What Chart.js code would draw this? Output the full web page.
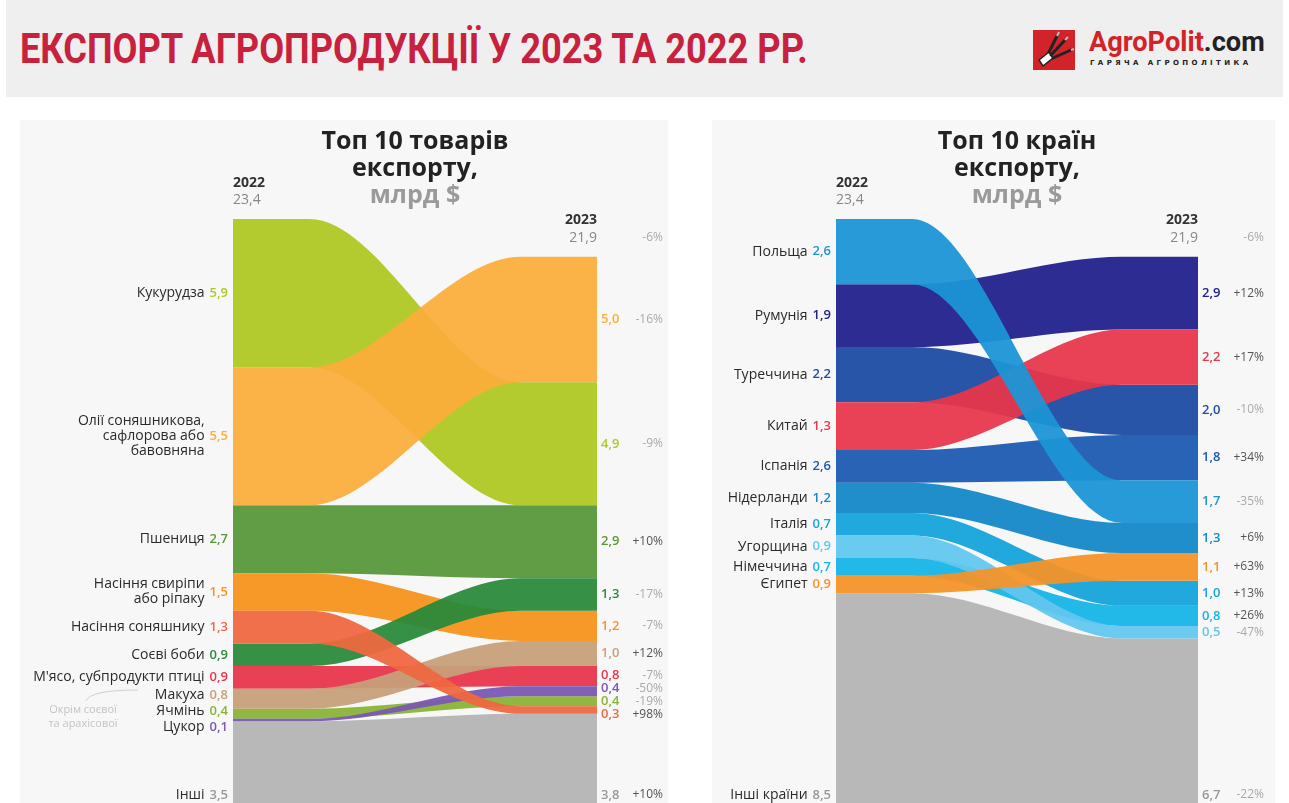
<!DOCTYPE html>
<html lang="uk">
<head>
<meta charset="utf-8">
<title>Експорт агропродукції у 2023 та 2022 рр.</title>
<script src="https://cdn.jsdelivr.net/npm/chart.js@4.4.1/dist/chart.umd.min.js"></script>
<style>
  body { margin: 0; width: 1289px; height: 803px; overflow: hidden; position: relative; background: #fff; font-family: 'Open Sans', sans-serif; }
  #head { position: absolute; left: 6px; top: 0; width: 1277px; height: 97px; background: #efefef; }
  #title { position: absolute; left: 20px; top: 28px; font: bold 42px Roboto, sans-serif; line-height: 42px; color: #c8213e; white-space: nowrap; transform-origin: 0 0; }
  #logoBox { position: absolute; left: 1033px; top: 30px; width: 42px; height: 40px; background: #d2232a; }
  #logoText { position: absolute; left: 1089px; top: 27px; font: bold 27px Roboto, sans-serif; line-height: 30px; color: #d2232a; white-space: nowrap; transform-origin: 0 0; }
  #logoText span { color: #222; }
  #logoSub { position: absolute; left: 1090px; top: 59px; font: bold 7px 'DejaVu Sans', sans-serif; letter-spacing: 3.4px; color: #222; white-space: nowrap; }
  .panel { position: absolute; top: 120px; height: 683px; background: #f7f7f7; }
  .panel canvas { position: absolute; left: 0; top: 0; }
  .ptitle { position: absolute; top: 6px; width: 300px; text-align: center; font: bold 25px 'Open Sans', sans-serif; line-height: 27px; color: #222; }
  .ptitle span { color: #9a9a9a; }
</style>
</head>
<body>
<div id="head"></div>
<div id="title">ЕКСПОРТ АГРОПРОДУКЦІЇ У 2023 ТА 2022 РР.</div>
<div id="logoBox">
  <svg width="42" height="40" viewBox="0 0 42 40">
    <path d="M6 30 L16 22 L20 28 L10 36 Z" fill="#fff" stroke="#222" stroke-width="1.5"/>
    <path d="M16 22 L24 6 M18 25 L32 10 M20 28 L38 20" stroke="#222" stroke-width="3" stroke-linecap="round"/>
    <path d="M24 6 L26 2 M32 10 L35 7 M38 20 L41 19" stroke="#bbb" stroke-width="2"/>
  </svg>
</div>
<div id="logoText">AgroPolit<span>.com</span></div>
<div id="logoSub">ГАРЯЧА АГРОПОЛІТИКА</div>

<div class="panel" style="left:20px; width:648px;">
  <canvas id="goodsChart" width="648" height="683"></canvas>
  <div class="ptitle" style="left:245px;">Топ 10 товарів<br>експорту,<br><span>млрд $</span></div>
</div>
<div class="panel" style="left:712px; width:563px;">
  <canvas id="countriesChart" width="563" height="683"></canvas>
  <div class="ptitle" style="left:155px;">Топ 10 країн<br>експорту,<br><span>млрд $</span></div>
</div>

<script>
// --- товари ---
const goodsNames = ['Кукурудза', 'Олії соняшникова,\nсафлорова або\nбавовняна', 'Пшениця', 'Насіння свиріпи\nабо ріпаку',
    'Насіння соняшнику', 'Соєві боби', "М'ясо, субпродукти птиці", 'Макуха', 'Ячмінь', 'Цукор', 'Інші'];
const goods2022 = [5.9, 5.5, 2.7, 1.5, 1.3, 0.9, 0.9, 0.8, 0.4, 0.1, 3.5];
const goods2023 = [4.9, 5.0, 2.9, 1.2, 0.3, 1.3, 0.8, 1.0, 0.4, 0.4, 3.8];
const goodsRank2023 = [1, 0, 2, 4, 9, 3, 6, 5, 8, 7, 10];
const goodsChange = ['-9%', '-16%', '+10%', '-7%', '+98%', '-17%', '-7%', '+12%', '-19%', '-50%', '+10%'];
const goodsColors = ['#afc824', '#fbae3c', '#57983a', '#f7941d', '#ee6840', '#2b8a3c', '#e9364c', '#c6a07a', '#8ab336', '#7a58b3', '#b4b4b4'];
const goodsTotals = [23.4, 21.9];

// --- країни ---
const countryNames = ['Польща', 'Румунія', 'Туреччина', 'Китай', 'Іспанія', 'Нідерланди', 'Італія', 'Угорщина', 'Німеччина', 'Єгипет', 'Інші країни'];
const countries2022 = [2.6, 2.5, 2.2, 1.9, 1.3, 1.2, 0.9, 0.9, 0.7, 0.7, 8.5];
const countryLabels2022 = ['2,6', '1,9', '2,2', '1,3', '2,6', '1,2', '0,7', '0,9', '0,7', '0,9', '8,5'];
const countries2023 = [1.7, 2.9, 2.0, 2.2, 1.8, 1.2, 1.0, 0.5, 0.8, 1.1, 6.7];
const countryLabels2023 = ['1,7', '2,9', '2,0', '2,2', '1,8', '1,3', '1,0', '0,5', '0,8', '1,1', '6,7'];
const countriesRank2023 = [4, 0, 2, 1, 3, 5, 7, 9, 8, 6, 10];
const countryChange = ['-35%', '+12%', '-10%', '+17%', '+34%', '+6%', '+13%', '-47%', '+26%', '+63%', '-22%'];
const countryColors = ['#1c95d6', '#21218d', '#1d4ca4', '#e8374c', '#1c5bb1', '#1488c8', '#15a3db', '#62c7ef', '#16b4e7', '#f4932a', '#b4b4b4'];
const countryTotals = [23.4, 21.9];

const totalChange = '-6%';
const years = ['2022', '2023'];

const FLAT = 0.21;

function fmt(v) {
    return v.toFixed(1).replace('.', ',');
}

function ribbon(from, to) {
    return [{ x: 0, y: from }, { x: FLAT, y: from }, { x: 1 - FLAT, y: to }, { x: 1, y: to }];
}

function stackTops(values, order, total) {
    const tops = [];
    let y = total;
    order.forEach(i => { tops[i] = y; y -= values[i]; });
    return tops;
}

function spread(items, gap) {
    for (let k = 0; k < 200; k++) {
        for (let i = 1; i < items.length; i++) {
            const need = (items[i - 1].h + items[i].h) / 2 + gap - (items[i].y - items[i - 1].y);
            if (need > 0) {
                items[i - 1].y -= need / 2;
                items[i].y += need / 2;
            }
        }
    }
}

function labelPlugin(cfg, top22, top23) {
    return {
        id: 'bandLabels',
        afterDraw(chart) {
            const { ctx, chartArea } = chart;
            const y = chart.scales.y;
            ctx.save();
            ctx.textBaseline = 'middle';

            // year headers
            ctx.font = 'bold 14px "Open Sans"';
            ctx.fillStyle = '#333';
            ctx.textAlign = 'left';
            ctx.fillText(years[0], chartArea.left, chartArea.top - 36);
            ctx.textAlign = 'right';
            const top2023 = y.getPixelForValue(cfg.totals[1]);
            ctx.fillText(years[1], chartArea.right, top2023 - 37);
            ctx.font = '14px "Open Sans"';
            ctx.fillStyle = '#888';
            ctx.textAlign = 'left';
            ctx.fillText(fmt(cfg.totals[0]), chartArea.left, chartArea.top - 19);
            ctx.textAlign = 'right';
            ctx.fillText(fmt(cfg.totals[1]), chartArea.right, top2023 - 19);
            ctx.font = '12px "Open Sans"';
            ctx.fillStyle = '#aaa';
            ctx.fillText(totalChange, chartArea.right + 66, top2023 - 19);

            // left labels
            const left = cfg.names.map((name, i) => ({
                lines: name.split('\n'),
                value: cfg.labels2022[i],
                color: cfg.colors[i],
                y: y.getPixelForValue(top22[i] - cfg.values2022[i] / 2),
                h: name.split('\n').length * 15
            }));
            const leftLast = left.pop();
            leftLast.y = chartArea.bottom - 8;
            spread(left, 1);
            left.push(leftLast);
            const lx = chartArea.left - 5;
            left.forEach(it => {
                ctx.font = '600 13px "Open Sans"';
                ctx.fillStyle = it.color === '#b4b4b4' ? '#999' : it.color;
                ctx.textAlign = 'right';
                ctx.fillText(it.value, lx, it.y);
                const w = ctx.measureText(it.value).width;
                ctx.font = '14px "Open Sans"';
                ctx.fillStyle = '#2a2a2a';
                const n = it.lines.length;
                it.lines.forEach((line, j) => {
                    ctx.fillText(line, lx - w - 5, it.y + (j - (n - 1) / 2) * 15);
                });
            });

            // right labels
            const right = cfg.names.map((_, i) => ({
                i,
                value: cfg.labels2023[i],
                color: cfg.colors[i],
                change: cfg.change[i],
                y: y.getPixelForValue(top23[i] - cfg.values2023[i] / 2),
                h: 12
            }));
            right.sort((a, b) => cfg.rank2023[a.i] - cfg.rank2023[b.i]);
            const rightLast = right.pop();
            rightLast.y = chartArea.bottom - 8;
            spread(right, 1);
            right.push(rightLast);
            right.forEach(it => {
                ctx.font = '600 13px "Open Sans"';
                ctx.fillStyle = it.color === '#b4b4b4' ? '#999' : it.color;
                ctx.textAlign = 'left';
                ctx.fillText(it.value, chartArea.right + 4, it.y);
                ctx.font = '12px "Open Sans"';
                ctx.fillStyle = it.change.startsWith('+') ? '#555' : '#aaa';
                ctx.textAlign = 'right';
                ctx.fillText(it.change, chartArea.right + 66, it.y);
            });

            if (cfg.note) {
                ctx.font = '11px "Open Sans"';
                ctx.fillStyle = '#c4c4c4';
                ctx.textAlign = 'center';
                ctx.fillText('Окрім соєвої', 63, 590);
                ctx.fillText('та арахісової', 63, 604);
                ctx.strokeStyle = '#cfcfcf';
                ctx.lineWidth = 1;
                ctx.beginPath();
                ctx.moveTo(66, 581);
                ctx.quadraticCurveTo(70, 570, 118, 570);
                ctx.stroke();
            }
            ctx.restore();
        }
    };
}

function buildFlowChart(canvasId, cfg) {
    const n = cfg.values2022.length;
    const leftOrder = cfg.values2022.map((_, i) => i);
    const rightOrder = leftOrder.slice().sort((a, b) => cfg.rank2023[a] - cfg.rank2023[b]);
    const top22 = stackTops(cfg.values2022, leftOrder, cfg.totals[0]);
    const top23 = stackTops(cfg.values2023, rightOrder, cfg.totals[1]);

    const datasets = [];
    for (let i = 0; i < n; i++) {
        const move = cfg.rank2023[i] - i;
        const z = -(Math.abs(move) + (move < 0 ? 0.5 : 0));
        const common = {
            borderWidth: 0,
            borderColor: 'transparent',
            pointRadius: 0,
            cubicInterpolationMode: 'monotone',
            order: z
        };
        datasets.push({
            ...common,
            data: ribbon(top22[i], top23[i]),
            fill: '+1',
            backgroundColor: cfg.colors[i] + 'f2'
        });
        datasets.push({
            ...common,
            data: ribbon(top22[i] - cfg.values2022[i], top23[i] - cfg.values2023[i]),
            fill: false
        });
    }

    const ctx = document.getElementById(canvasId).getContext('2d');
    return new Chart(ctx, {
        type: 'line',
        data: { datasets: datasets },
        options: {
            responsive: false,
            animation: false,
            events: [],
            layout: { padding: cfg.padding },
            plugins: {
                legend: { display: false },
                tooltip: { enabled: false }
            },
            scales: {
                x: { type: 'linear', min: 0, max: 1, display: false },
                y: { min: 0.15, max: cfg.totals[0], display: false }
            }
        },
        plugins: [labelPlugin(cfg, top22, top23)]
    });
}

function fitWidth(id, width) {
    const el = document.getElementById(id);
    el.style.transform = 'scaleX(' + (width / el.offsetWidth) + ')';
}

fitWidth('title', 788);
fitWidth('logoText', 176);

buildFlowChart('goodsChart', {
    names: goodsNames,
    values2022: goods2022,
    values2023: goods2023,
    labels2022: goods2022.map(fmt),
    labels2023: goods2023.map(fmt),
    rank2023: goodsRank2023,
    change: goodsChange,
    colors: goodsColors,
    totals: goodsTotals,
    note: true,
    padding: { left: 213, right: 71, top: 99, bottom: 0 }
});

buildFlowChart('countriesChart', {
    names: countryNames,
    values2022: countries2022,
    values2023: countries2023,
    labels2022: countryLabels2022,
    labels2023: countryLabels2023,
    rank2023: countriesRank2023,
    change: countryChange,
    colors: countryColors,
    totals: countryTotals,
    note: false,
    padding: { left: 124, right: 77, top: 99, bottom: 0 }
});
</script>
</body>
</html>
